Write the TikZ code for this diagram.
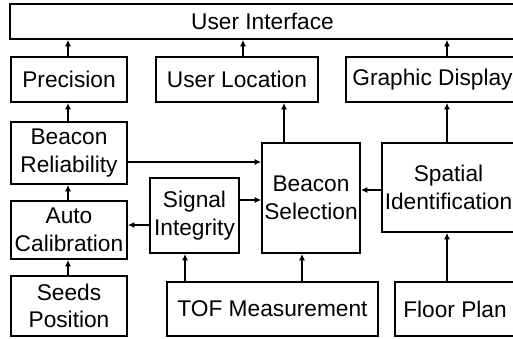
\documentclass[tikz,border=0pt]{standalone}
\usepackage{fontspec}
\setmainfont{Liberation Sans}
\usetikzlibrary{arrows.meta,calc}
\begin{document}
\begin{tikzpicture}[x=1pt,y=-1pt,
  box/.style={draw,line width=1.6pt,inner sep=0pt,align=center,
    font=\fontsize{22.7}{27.5}\selectfont},
  arr/.style={line width=1.8pt,-{Latex[length=6.5pt,width=6pt]}},
  arrb/.style={line width=2.6pt,-{Latex[length=6.5pt,width=6pt]}}]
\useasboundingbox (0,0) rectangle (513,338);
% boxes
\node[box,minimum width=505pt,minimum height=35pt] (ui) at (262.5,21.5) {User Interface};
\node[box,minimum width=116pt,minimum height=45pt] (prec) at (69,79.5) {Precision};
\node[box,minimum width=162pt,minimum height=45pt] (ul) at (237,79.5) {User Location};
\node[box,minimum width=173pt,minimum height=45pt] (gd) at (432.5,79.5) {Graphic Display};
\node[box,minimum width=116pt,minimum height=62pt] (br) at (69,153) {Beacon\\Reliability};
\node[box,minimum width=116pt,minimum height=58pt] (ac) at (69,230) {Auto\\Calibration};
\node[box,minimum width=89pt,minimum height=75pt] (si) at (194.5,215.5) {Signal\\Integrity};
\node[box,minimum width=98pt,minimum height=110pt] (bs) at (311,198) {Beacon\\Selection};
\node[box,minimum width=133pt,minimum height=89pt] (spi) at (448.5,187.5) {Spatial\\Identification};
\node[box,minimum width=116pt,minimum height=60pt] (sp) at (69,306) {Seeds\\Position};
\node[box,minimum width=211pt,minimum height=54pt] (tof) at (272.5,309) {TOF Measurement};
\node[box,minimum width=120pt,minimum height=54pt] (fp) at (455,309) {Floor Plan};
% connectors
\draw[arr] ([xshift=-1pt]prec.north) -- ([xshift=-1pt]prec.north |- ui.south);
\draw[arr] ([xshift=6pt]ul.north) -- ([xshift=6pt]ul.north |- ui.south);
\draw[arr] ([xshift=14.5pt]gd.north) -- ([xshift=14.5pt]gd.north |- ui.south);
\draw[arr] ([xshift=-1pt]br.north) -- ([xshift=-1pt]br.north |- prec.south);
\draw[arr] ([xshift=-1pt]ac.north) -- ([xshift=-1pt]ac.north |- br.south);
\draw[arr] ([xshift=-1pt]sp.north) -- ([xshift=-1pt]sp.north |- ac.south);
\draw[arrb] ([xshift=-27pt]bs.north) -- ([xshift=-27pt]bs.north |- ul.south);
\draw[arrb] ([xshift=-1.5pt]spi.north) -- ([xshift=-1.5pt]spi.north |- gd.south);
\draw[arrb] ([yshift=-9pt]br.east) -- ([yshift=-9pt]br.east -| bs.west);
\draw[arrb] ([yshift=15.5pt]si.east) -- ([yshift=15.5pt]si.east -| bs.west);
\draw[arr] ([yshift=-2.5pt]spi.west) -- ([yshift=-2.5pt]spi.west -| bs.east);
\draw[arr] ([yshift=-9.5pt]si.west) -- ([yshift=-9.5pt]si.west -| ac.east);
\draw[arr] ([xshift=-9.5pt]si.south |- tof.north) -- ([xshift=-9.5pt]si.south);
\draw[arrb] ([xshift=-9pt]bs.south |- tof.north) -- ([xshift=-9pt]bs.south);
\draw[arrb] ([xshift=-1.5pt]spi.south |- fp.north) -- ([xshift=-1.5pt]spi.south);
\end{tikzpicture}
\end{document}
